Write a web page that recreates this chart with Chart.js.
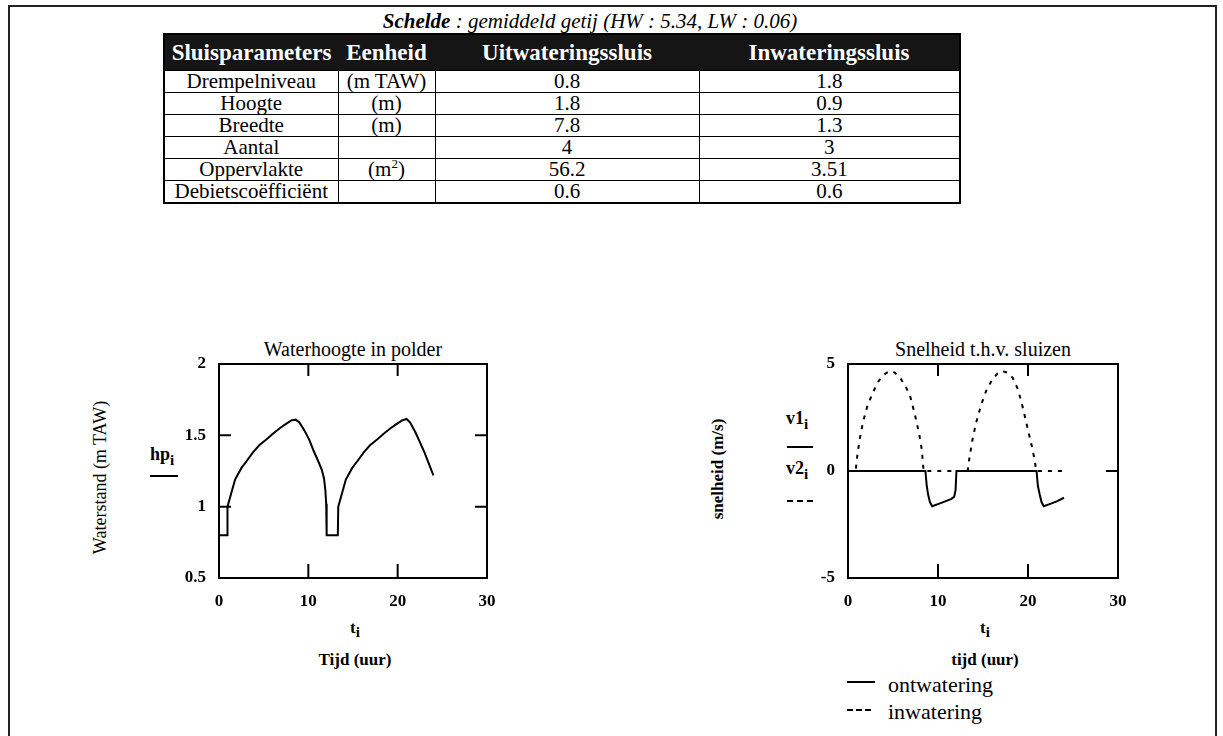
<!DOCTYPE html>
<html lang="nl">
<head>
  <meta charset="UTF-8">
  <title>Schelde : gemiddeld getij</title>
  <script src="https://cdn.jsdelivr.net/npm/chart.js"></script>
  <style>
    body { margin: 0; background: #fff; font-family: "Liberation Serif", "Times New Roman", serif; color: #000; }
    #page { position: relative; width: 1223px; height: 736px; overflow: hidden; }
    #frame { position: absolute; left: 8px; top: 5px; width: 1205px; height: 760px; border: 2px solid #222; }
    .abs { position: absolute; white-space: nowrap; }
    #mainTitle { left: 0; width: 1180px; top: 9px; text-align: center; font-size: 21px; font-style: italic; }
    #params { position: absolute; left: 163px; top: 33px; width: 797px; border-collapse: collapse; border: 2px solid #000; table-layout: fixed; }
    #params th { background: #151515; color: #fff; font-size: 23px; font-weight: bold; height: 35px; padding: 0; overflow: hidden; }
    #params td { border: 1px solid #000; font-size: 21px; text-align: center; height: 21px; padding: 0; line-height: 21px; }
    #params sup { font-size: 13px; line-height: 0; }
    .ctitle { font-size: 20px; text-align: center; }
    .mc { font-weight: bold; font-size: 18px; }
    .mc sub { font-size: 15px; }
    .rot { transform: rotate(-90deg); transform-origin: center center; }
    canvas { position: absolute; }
  </style>
</head>
<body>
<div id="page">
  <div id="frame"></div>
  <div id="mainTitle" class="abs"><b>Schelde</b> : gemiddeld getij (HW : 5.34, LW : 0.06)</div>
  <table id="params">
    <thead><tr id="headRow"></tr></thead>
    <tbody id="paramBody"></tbody>
  </table>

  <!-- left chart labels -->
  <div class="abs ctitle" style="left:253px; top:338px; width:200px;">Waterhoogte in polder</div>
  <div class="abs rot" style="left:10px; top:467px; width:180px; text-align:center; font-size:18px;">Waterstand (m TAW)</div>
  <div class="abs mc" style="left:150px; top:444px;">hp<sub>i</sub></div>
  <div class="abs" style="left:150px; top:475px; width:28px; border-top:2px solid #000;"></div>
  <div class="abs mc" style="left:305px; top:618px; width:100px; text-align:center; font-size:17px;">t<sub>i</sub></div>
  <div class="abs mc" style="left:305px; top:650px; width:100px; text-align:center; font-size:17px;">Tijd (uur)</div>

  <!-- right chart labels -->
  <div class="abs ctitle" style="left:883px; top:338px; width:200px;">Snelheid t.h.v. sluizen</div>
  <div class="abs rot mc" style="left:658px; top:459px; width:120px; text-align:center; font-size:17px;">snelheid (m/s)</div>
  <div class="abs mc" style="left:786px; top:408px;">v1<sub>i</sub></div>
  <div class="abs" style="left:787px; top:446px; width:26px; border-top:2px solid #000;"></div>
  <div class="abs mc" style="left:786px; top:458px;">v2<sub>i</sub></div>
  <div class="abs" style="left:787px; top:500px; width:26px; border-top:2px dashed #000;"></div>
  <div class="abs mc" style="left:935px; top:618px; width:100px; text-align:center; font-size:17px;">t<sub>i</sub></div>
  <div class="abs mc" style="left:935px; top:650px; width:100px; text-align:center; font-size:17px;">tijd (uur)</div>
  <div class="abs" style="left:847px; top:681px; width:28px; border-top:2px solid #000;"></div>
  <div class="abs" style="left:888px; top:672px; font-size:22px;">ontwatering</div>
  <div class="abs" style="left:847px; top:709px; width:24px; border-top:2px dashed #000;"></div>
  <div class="abs" style="left:888px; top:699px; font-size:22px;">inwatering</div>

  <canvas id="hpChart" width="410" height="280" style="left:100px; top:340px;"></canvas>
  <canvas id="vChart" width="420" height="280" style="left:720px; top:340px;"></canvas>
</div>

<script>
  // table data
  const headers = ['Sluisparameters', 'Eenheid', 'Uitwateringssluis', 'Inwateringssluis'];
  const paramNames = ['Drempelniveau', 'Hoogte', 'Breedte', 'Aantal', 'Oppervlakte', 'Debietscoëfficiënt'];
  const paramUnits = ['(m TAW)', '(m)', '(m)', '', '(m<sup>2</sup>)', ''];
  const uitValues = ['0.8', '1.8', '7.8', '4', '56.2', '0.6'];
  const inValues = ['1.8', '0.9', '1.3', '3', '3.51', '0.6'];
  const colWidths = [173, 97, 264, 260];

  // waterhoogte in polder
  const hpT = [0, 0.95, 0.95, 1.8, 2.5, 3.1, 3.8, 4.5, 5.3, 6.0, 6.8, 7.5, 8.1, 8.6, 9.0, 9.5, 10.1, 10.6, 11.1, 11.5, 11.75, 11.9, 12.0, 12.05,
               13.3, 13.35, 14.2, 14.9, 15.5, 16.2, 16.9, 17.7, 18.4, 19.2, 19.9, 20.5, 21.0, 21.4, 22.0, 22.5, 23.0, 23.5, 24.0];
  const hpV = [0.8, 0.8, 1.0, 1.19, 1.27, 1.32, 1.38, 1.43, 1.47, 1.51, 1.55, 1.58, 1.605, 1.61, 1.59, 1.54, 1.47, 1.39, 1.32, 1.26, 1.2, 1.12, 1.02, 0.8,
               0.8, 1.0, 1.19, 1.27, 1.32, 1.38, 1.43, 1.47, 1.51, 1.55, 1.58, 1.605, 1.615, 1.59, 1.52, 1.45, 1.38, 1.3, 1.22];

  // snelheid: v1 = ontwatering (solid), v2 = inwatering (dashed)
  const v1T = [0, 8.6, 8.75, 8.9, 9.1, 9.35, 10.0, 10.8, 11.5, 11.8, 11.95, 12.05, 20.95, 21.1, 21.3, 21.5, 21.75, 22.4, 23.2, 24.0];
  const v1V = [0, 0, -0.7, -1.1, -1.45, -1.65, -1.55, -1.42, -1.3, -1.2, -0.9, 0, 0, -0.7, -1.1, -1.45, -1.65, -1.55, -1.42, -1.25];
  const v2T = [0, 0.85, 1.0, 1.3, 1.7, 2.2, 2.8, 3.4, 4.0, 4.6, 5.2, 5.8, 6.4, 6.9, 7.4, 7.9, 8.2, 8.4,
               13.3, 13.45, 13.8, 14.2, 14.8, 15.4, 16.0, 16.6, 17.1, 17.7, 18.3, 18.9, 19.4, 19.9, 20.4, 20.75, 20.9, 24.2];
  const v2V = [0, 0, 0.6, 1.5, 2.35, 3.1, 3.7, 4.2, 4.5, 4.67, 4.6, 4.35, 3.95, 3.5, 2.7, 1.75, 1.0, 0,
               0, 0.5, 1.4, 2.2, 3.1, 3.8, 4.25, 4.55, 4.67, 4.6, 4.35, 3.8, 3.0, 2.1, 1.2, 0.5, 0, 0];

  // build the table
  const headRow = document.getElementById('headRow');
  headers.forEach((h, i) => {
    const th = document.createElement('th');
    th.textContent = h;
    th.style.width = colWidths[i] + 'px';
    headRow.appendChild(th);
  });
  const body = document.getElementById('paramBody');
  paramNames.forEach((name, i) => {
    const row = body.insertRow();
    row.insertCell(0).textContent = name;
    row.insertCell(1).innerHTML = paramUnits[i];
    row.insertCell(2).textContent = uitValues[i];
    row.insertCell(3).textContent = inValues[i];
  });

  const pts = (ts, vs) => ts.map((t, i) => ({ x: t, y: vs[i] }));
  const tickFont = { family: 'Liberation Serif', size: 17, weight: 'bold' };

  // box around the plot with short inward ticks, mathcad style
  const frameTicks = {
    id: 'frameTicks',
    afterDraw(chart, args, opts) {
      const { ctx, chartArea: a, scales: { x, y } } = chart;
      ctx.save();
      ctx.strokeStyle = '#000';
      ctx.lineWidth = 2;
      ctx.strokeRect(a.left, a.top, a.width, a.height);
      ctx.beginPath();
      opts.xTicks.forEach(v => {
        const px = x.getPixelForValue(v);
        ctx.moveTo(px, a.bottom); ctx.lineTo(px, a.bottom - 14);
        ctx.moveTo(px, a.top); ctx.lineTo(px, a.top + 12);
      });
      opts.yTicks.forEach(v => {
        const py = y.getPixelForValue(v);
        ctx.moveTo(a.left, py); ctx.lineTo(a.left + 12, py);
        ctx.moveTo(a.right, py); ctx.lineTo(a.right - 12, py);
      });
      ctx.stroke();
      ctx.restore();
    }
  };

  function makeChart(id, datasets, yMin, yMax, yStep, yTicks, yWidth, rightPad) {
    return new Chart(document.getElementById(id), {
      type: 'scatter',
      data: { datasets },
      plugins: [frameTicks],
      options: {
        responsive: false,
        animation: false,
        layout: { padding: { left: 0, right: rightPad, top: 24, bottom: 12 } },
        plugins: {
          legend: { display: false },
          tooltip: { enabled: false },
          frameTicks: { xTicks: [10, 20], yTicks: yTicks }
        },
        scales: {
          x: {
            type: 'linear', min: 0, max: 30,
            grid: { display: false }, border: { display: false },
            ticks: { stepSize: 10, color: '#000', font: tickFont, padding: 5 },
            afterFit: s => { s.height = 30; }
          },
          y: {
            type: 'linear', min: yMin, max: yMax,
            grid: { display: false }, border: { display: false },
            ticks: { stepSize: yStep, color: '#000', font: tickFont, padding: 5, callback: v => String(v) },
            afterFit: s => { s.width = yWidth; }
          }
        }
      }
    });
  }

  makeChart('hpChart', [{
    data: pts(hpT, hpV), showLine: true, borderColor: '#000', borderWidth: 2, pointRadius: 0, tension: 0
  }], 0.5, 2, 0.5, [1, 1.5], 119, 23);

  makeChart('vChart', [{
    data: pts(v2T, v2V), showLine: true, borderColor: '#000', borderWidth: 2, borderDash: [4, 6], pointRadius: 0, tension: 0
  }, {
    data: pts(v1T, v1V), showLine: true, borderColor: '#000', borderWidth: 2, pointRadius: 0, tension: 0
  }], -5, 5, 5, [0], 128, 22);
</script>
</body>
</html>
